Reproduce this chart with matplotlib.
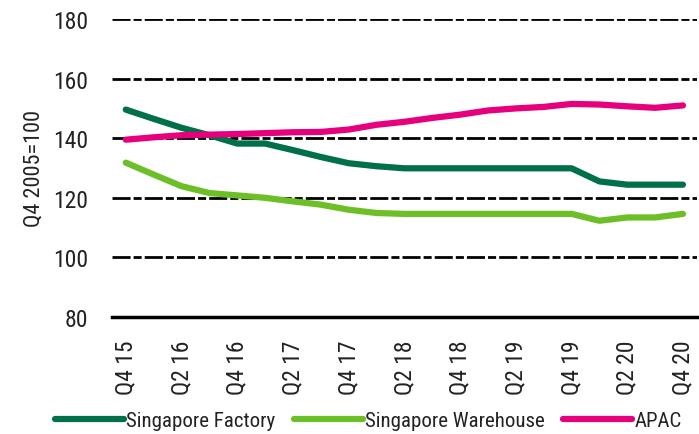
import matplotlib

matplotlib.use("Agg")
import matplotlib.pyplot as plt
from matplotlib import font_manager
import numpy as np

# quarterly index, Q4 2005 = 100
quarters = ["Q4 15", "Q1 16", "Q2 16", "Q3 16", "Q4 16", "Q1 17", "Q2 17",
            "Q3 17", "Q4 17", "Q1 18", "Q2 18", "Q3 18", "Q4 18", "Q1 19",
            "Q2 19", "Q3 19", "Q4 19", "Q1 20", "Q2 20", "Q3 20", "Q4 20"]
sg_factory = [149.6, 146.5, 143.5, 141.0, 138.2, 138.2, 136.0, 133.7, 131.6,
              130.6, 129.9, 129.9, 129.9, 129.9, 129.9, 129.9, 129.9, 125.5,
              124.4, 124.4, 124.4]
sg_warehouse = [131.8, 127.8, 123.9, 121.6, 120.8, 120.0, 118.8, 117.7, 116.0,
                114.9, 114.6, 114.6, 114.6, 114.6, 114.6, 114.6, 114.6, 112.3,
                113.4, 113.4, 114.6]
apac = [139.5, 140.3, 141.0, 141.2, 141.4, 141.7, 142.0, 142.1, 142.9,
        144.5, 145.5, 146.8, 147.9, 149.3, 150.0, 150.5, 151.5, 151.3,
        150.7, 150.2, 151.0]
series_names = ["Singapore Factory", "Singapore Warehouse", "APAC"]
y_ticks = [80, 100, 120, 140, 160, 180]

colors = ["#00704A", "#6CBF26", "#E6007E"]
txt = "#222222"

# pick a condensed face, the original uses a narrow geometric font
names = {f.name for f in font_manager.fontManager.ttflist}
fam = "DejaVu Sans"
for cand in ["Roboto Condensed", "Archivo Narrow", "PT Sans Narrow",
             "Liberation Sans Narrow", "Open Sans Condensed"]:
    if cand in names:
        fam = cand
        break
plt.rcParams["font.family"] = [fam, "DejaVu Sans"]

fig = plt.figure(figsize=(6.99, 4.35), dpi=100)
ax = fig.add_axes([0.160, 0.269, 0.837, 0.685])

x = np.arange(len(quarters))
for vals, c, name in zip([sg_factory, sg_warehouse, apac], colors, series_names):
    ax.plot(x, vals, color=c, lw=4.5, solid_capstyle="round",
            solid_joinstyle="round", label=name, zorder=3)

for yv in y_ticks[1:]:
    ax.axhline(yv, color="black", lw=2, ls=(0, (6.5, 1.1, 2.9, 1.1)), zorder=1)

ax.set_xlim(-0.5, len(quarters) - 0.5)
ax.set_ylim(80, 180)
ax.set_yticks(y_ticks)
ax.set_xticks(x[::2])
ax.set_xticklabels(quarters[::2], rotation=90)
ax.tick_params(axis="both", length=0, labelsize=17, colors=txt)
ax.tick_params(axis="y", pad=17)
ax.tick_params(axis="x", pad=16)
for s in ["top", "right", "left"]:
    ax.spines[s].set_visible(False)
ax.spines["bottom"].set_linewidth(2.5)
ax.spines["bottom"].set_color("black")
ax.set_ylabel("Q4 2005=100", fontsize=16, color=txt, labelpad=6)

fig.legend(loc="lower left", bbox_to_anchor=(0.067, -0.01), ncol=3,
           frameon=False, fontsize=15, handlelength=3.3, handletextpad=0.1,
           columnspacing=0.9, borderaxespad=0, labelcolor=txt)

fig.savefig("out.png", dpi=100)
